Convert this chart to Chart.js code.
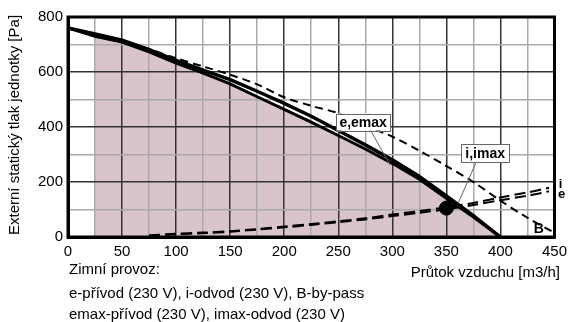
<!DOCTYPE html>
<html><head><meta charset="utf-8">
<script src="https://cdn.jsdelivr.net/npm/chart.js@4/dist/chart.umd.min.js"></script>
<style>
html,body{margin:0;padding:0;background:#fff;}
#wrap{position:relative;width:573px;height:322px;overflow:hidden;font-family:"Liberation Sans",Arial,sans-serif;color:#000;}
canvas{position:absolute;left:0;top:0;}
.t{position:absolute;font-size:15px;line-height:18px;white-space:nowrap;}
</style></head><body>
<div id="wrap">
<canvas id="c" width="573" height="322"></canvas>
<div class="t" style="left:0;top:116px;width:300px;text-align:center;transform:translate(-136px,0) rotate(-90deg);transform-origin:150px 9px;">Externí statický tlak jednotky [Pa]</div>
<div class="t" style="right:13px;top:263px;">Průtok vzduchu [m3/h]</div>
<div class="t" style="left:69px;top:260px;">Zimní provoz:</div>
<div class="t" style="left:69px;top:284px;">e-přívod (230 V), i-odvod (230 V), B-by-pass</div>
<div class="t" style="left:69px;top:305px;">emax-přívod (230 V), imax-odvod (230 V)</div>
</div>
<script>
// Data (airflow m3/h, pressure Pa)
const flowE   = [0,25,50,75,100,125,150,175,200,225,250,275,300,325,350,375,400];
const eVals   = [760,738,716,681,642,607,572,530,486,439,387,335,281,220,149,78,0];
const emaxVals= [760,730,709,673,632,596,557,510,464,418,369,320,268,210,141,73,0];
const flowFill= [25,50,75,100,125,150,175,200,225,250,275,300,325,350,375,400];
const fillVals= [730,709,673,632,596,557,510,464,418,369,320,268,210,141,73,0];
const flowB   = [0,25,50,75,100,125,150,175,200,225,250,275,300,325,350,375,400,425,450];
const bVals   = [760,738,716,684,650,620,590,555,508,477,450,405,365,314,258,200,132,70,15];
const flowI   = [75,100,125,150,175,200,225,250,275,300,325,350,375,400,425,445];
const iVals   = [6,12,16,21,29,38,47,57,68,82,94,108,124,144,162,179];
const imaxVals= [4,10,14,19,27,35,44,54,64,76,88,101,116,134,150,166];
const opPoint = {x:350, y:105};
const xTicks = [0,50,100,150,200,250,300,350,400,450];
const yTicks = [0,200,400,600,800];

const pts = (xs, ys) => xs.map((x,i)=>({x:x,y:ys[i]}));

const annot = {
  id:'annot',
  afterDatasetsDraw(chart){
    const ctx = chart.ctx, xs = chart.scales.x, ys = chart.scales.y, a = chart.chartArea;
    const X = v=>xs.getPixelForValue(v), Y = v=>ys.getPixelForValue(v);
    ctx.save();
    ctx.strokeStyle='#666'; ctx.lineWidth=1;
    ctx.beginPath(); ctx.moveTo(X(279.6),Y(390)); ctx.lineTo(X(297.9),Y(262)); ctx.stroke();
    ctx.beginPath(); ctx.moveTo(X(377.6),Y(272)); ctx.lineTo(X(361),Y(124)); ctx.stroke();
    const box=(txt,cx,cy,w,h)=>{
      const px=X(cx), py=Y(cy);
      ctx.fillStyle='#fff'; ctx.fillRect(px-w/2,py-h/2,w,h);
      ctx.strokeStyle='#666'; ctx.lineWidth=1; ctx.strokeRect(Math.round(px-w/2)+0.5,Math.round(py-h/2)+0.5,w,h);
      ctx.fillStyle='#000'; ctx.font='bold 14px "Liberation Sans", Arial, sans-serif';
      ctx.textAlign='center'; ctx.textBaseline='middle'; ctx.fillText(txt,px,py+1);
    };
    box('e,emax',273,418,54,17);
    box('i,imax',385.9,305,48,18);
    ctx.fillStyle='#000'; ctx.font='bold 14px "Liberation Sans", Arial, sans-serif';
    ctx.textAlign='center'; ctx.textBaseline='middle';
    ctx.fillText('B',X(435.4),Y(29));
    ctx.font='bold 13px "Liberation Sans", Arial, sans-serif';
    ctx.fillText('i',X(455.5),Y(193));
    ctx.fillText('e',X(456.5),Y(156));
    ctx.strokeStyle='#000'; ctx.lineWidth=3;
    ctx.strokeRect(a.left,a.top,a.right-a.left,a.bottom-a.top);
    ctx.restore();
  }
};

new Chart(document.getElementById('c'),{
  type:'line',
  data:{datasets:[
    {label:'fill',data:pts(flowFill,fillVals),borderWidth:0,pointRadius:0,fill:'origin',backgroundColor:'#d9c4c9',borderColor:'rgba(0,0,0,0)',tension:0},
    {label:'B',data:pts(flowB,bVals),borderColor:'#000',borderWidth:2,borderDash:[8,5],pointRadius:0,fill:false,tension:0.3},
    {label:'i',data:pts(flowI,iVals),borderColor:'#000',borderWidth:2,borderDash:[11,5],pointRadius:0,fill:false,tension:0.3},
    {label:'imax',data:pts(flowI,imaxVals),borderColor:'#000',borderWidth:2,borderDash:[11,5],pointRadius:0,fill:false,tension:0.3},
    {label:'emax',data:pts(flowE,emaxVals),borderColor:'#000',borderWidth:3,pointRadius:0,fill:false,tension:0},
    {label:'emaxIn',data:pts(flowE,emaxVals),borderColor:'#fff',borderWidth:1,pointRadius:0,fill:false,tension:0},
    {label:'e',data:pts(flowE,eVals),borderColor:'#000',borderWidth:3.5,pointRadius:0,fill:false,tension:0},
    {label:'pt',data:[opPoint],showLine:false,pointRadius:7,pointBackgroundColor:'#000',pointBorderColor:'#000'}
  ]},
  options:{
    responsive:false,animation:false,
    layout:{padding:{top:17,right:14,left:0,bottom:0}},
    plugins:{legend:{display:false},tooltip:{enabled:false},filler:{drawTime:'beforeDraw'}},
    scales:{
      x:{type:'linear',min:0,max:450,
        afterBuildTicks(s){ const t=[]; for(let v=0;v<=450;v+=25) t.push({value:v}); s.ticks=t; },
        afterFit(s){ s.height=85; },
        ticks:{color:'#000',font:{family:'"Liberation Sans", Arial, sans-serif',size:15},padding:6,maxRotation:0,autoSkip:false,
          callback:(v)=> xTicks.includes(v)? String(v):''},
        grid:{drawTicks:false,lineWidth:1.5,color:(c)=> (c.tick && c.tick.value%50===0)?'#333':'#aaa'},
        border:{display:true,color:'#000',width:3}
      },
      y:{type:'linear',min:0,max:800,
        afterBuildTicks(s){ const t=[]; for(let v=0;v<=800;v+=100) t.push({value:v}); s.ticks=t; },
        afterFit(s){ s.width=68; },
        ticks:{color:'#000',font:{family:'"Liberation Sans", Arial, sans-serif',size:15},padding:5,autoSkip:false,
          callback:(v)=> yTicks.includes(v)? String(v):''},
        grid:{drawTicks:false,lineWidth:1.5,color:(c)=> (c.tick && c.tick.value%200===0)?'#333':'#aaa'},
        border:{display:true,color:'#000',width:3}
      }
    }
  },
  plugins:[annot]
});
</script>
</body></html>
